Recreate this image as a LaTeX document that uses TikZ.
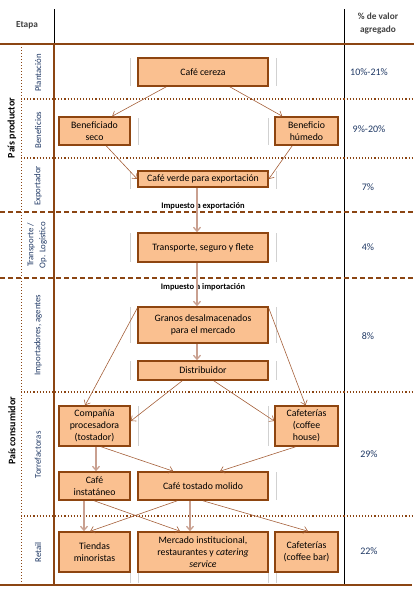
\documentclass[tikz,border=0pt]{standalone}
\usepackage{fontspec}
\setmainfont{Carlito}
\usetikzlibrary{arrows.meta}
\definecolor{BoxFill}{HTML}{FAC090}
\definecolor{BoxEdge}{HTML}{8E4510}
\definecolor{LinkBrown}{HTML}{A5603A}
\definecolor{LinkPale}{HTML}{C9A090}
\definecolor{RuleBrown}{HTML}{8B4513}
\definecolor{StageNavy}{HTML}{1F3864}

\begin{document}
\begin{tikzpicture}[x=1pt, y=-1pt,
    stepbox/.style={draw=BoxEdge, fill=BoxFill, line width=1.6pt, inner sep=1pt, align=center, font=\fontsize{9.8}{12}\selectfont},
    link/.style={-{Straight Barb[length=4pt,width=7pt]}, color=LinkBrown, line width=0.6pt},
    mainlink/.style={-{Straight Barb[length=4pt,width=7pt]}, color=LinkPale, line width=1.3pt},
    stage/.style={rotate=90, color=StageNavy, align=center, font=\fontsize{8.8}{12}\selectfont},
    country/.style={rotate=90, font=\bfseries\fontsize{10}{12}\selectfont},
    share/.style={color=StageNavy, font=\fontsize{10}{12}\selectfont},
    tax/.style={font=\bfseries\fontsize{8.5}{10}\selectfont},
    head/.style={align=center, color=black!75, font=\bfseries\fontsize{9.3}{13}\selectfont},
    guide/.style={draw=black!18, line width=1pt}
  ]
    \useasboundingbox (0,0) rectangle (414,590);

    % table frame
    \draw[black, line width=0.8pt] (54,9) -- (54,44);
    \draw[black, line width=0.8pt] (344,9) -- (344,585);
    \draw[RuleBrown, line width=1.5pt] (0,44) -- (414,44);
    \draw[RuleBrown, line width=1.6pt] (54,44) -- (54,585);
    \draw[RuleBrown, line width=1pt, dotted] (21,44) -- (21,585);
    \foreach \y in {99,158,392,516}
      \draw[RuleBrown, line width=1.1pt, dotted] (21,\y) -- (414,\y);
    \foreach \y in {212,278}
      \draw[RuleBrown, line width=1.5pt, dash pattern=on 5pt off 3pt] (0,\y) -- (414,\y);
    \draw[RuleBrown, line width=2pt] (0,585) -- (412,585);

    % header
    \node[head] (etapa) at (27,25) {Etapa};
    \node[head] (valor) at (378,24) {\% de valor\\agregado};

    % stage labels
    \node[country] (prod) at (12,128) {País productor};
    \node[country] (cons) at (12,431) {País consumidor};
    \node[stage] (plant) at (38,73) {Plantación};
    \node[stage] (benef) at (38,130) {Beneficios};
    \node[stage] (expor) at (38,186) {Exportador};
    \node[stage] (logis) at (37,245) {Transporte /\\Op. Logístico};
    \node[stage] (impor) at (38,335) {Importadores, agentes};
    \node[stage] (torre) at (38,455) {Torrefactoras};
    \node[stage] (retail) at (38,552) {Retail};

    % shares
    \node[share] (p1) at (369,72) {10\%-21\%};
    \node[share] (p2) at (369,129) {9\%-20\%};
    \node[share] (p3) at (368,187) {7\%};
    \node[share] (p4) at (368,247) {4\%};
    \node[share] (p5) at (368,336) {8\%};
    \node[share] (p6) at (369,454) {29\%};
    \node[share] (p7) at (369,551) {22\%};

    % grid guides
    \foreach \ya/\yb in {58/86,171/189,233/262,307/343,361/380}
      \draw[guide] (130,\ya) -- (130,\yb) (276,\ya) -- (276,\yb);
    \foreach \ya/\yb in {118/145,406/446}
      \draw[guide] (138,\ya) -- (138,\yb) (268,\ya) -- (268,\yb);
    \draw[guide] (276,472) -- (276,500);
    \draw[guide] (130,572) -- (130,583) (138,572) -- (138,583)
                 (268,572) -- (268,583) (276,572) -- (276,583);

    % boxes
    \node[stepbox, minimum width=130pt, minimum height=28pt] (cereza) at (203,72) {Café cereza};
    \node[stepbox, minimum width=71pt, minimum height=28pt] (seco) at (94.5,131) {Beneficiado\\seco};
    \node[stepbox, minimum width=63pt, minimum height=28pt] (humedo) at (306.5,131) {Beneficio\\húmedo};
    \node[stepbox, minimum width=130pt, minimum height=16pt] (verde) at (203,179) {Café verde para exportación};
    \node[stepbox, minimum width=130pt, minimum height=29pt] (flete) at (203,247.5) {Transporte, seguro y flete};
    \node[stepbox, minimum width=130pt, minimum height=36pt] (granos) at (203,325) {Granos desalmacenados\\para el mercado};
    \node[stepbox, minimum width=130pt, minimum height=19pt] (distrib) at (203,370.5) {Distribuidor};
    \node[stepbox, minimum width=71pt, minimum height=40pt] (tostador) at (94.5,426) {Compañía\\procesadora\\(tostador)};
    \node[stepbox, minimum width=63pt, minimum height=40pt] (house) at (306.5,426) {Cafeterías\\(coffee\\house)};
    \node[stepbox, minimum width=71pt, minimum height=28pt] (instant) at (94.5,486) {Café\\instatáneo};
    \node[stepbox, minimum width=130pt, minimum height=28pt] (molido) at (203,486) {Café tostado molido};
    \node[stepbox, minimum width=71pt, minimum height=40pt] (tiendas) at (94.5,552) {Tiendas\\minoristas};
    \node[stepbox, minimum width=130pt, minimum height=40pt] (mercado) at (203,552) {Mercado institucional,\\restaurantes y \textit{catering}\\\textit{service}};
    \node[stepbox, minimum width=63pt, minimum height=40pt] (bar) at (306.5,552) {Cafeterías\\(coffee bar)};

    % taxes
    \node[tax] (taxexp) at (203,206) {Impuesto a exportación};
    \node[tax] (taximp) at (203,287) {Impuesto a importación};

    % flows
    \draw[link] ([xshift=29pt]cereza.south west) -- ([xshift=54pt]seco.north west);
    \draw[link] ([xshift=-39pt]cereza.south east) -- ([xshift=8pt]humedo.north west);
    \draw[link] ([xshift=48pt]seco.south west) -- (verde.west);
    \draw[link] ([xshift=18pt]humedo.south west) -- (verde.east);
    \draw[mainlink] ([xshift=-6pt]verde.south) -- ([xshift=-6pt]flete.north);
    \draw[mainlink] ([xshift=-6pt]flete.south) -- ([xshift=-6pt]granos.north);
    \draw[mainlink] ([xshift=-6pt]granos.south) -- ([xshift=-6pt]distrib.north);
    \draw[link] ([yshift=-2pt]granos.north west) -- ([xshift=27pt]tostador.north west);
    \draw[link] ([yshift=-2pt]granos.north east) -- ([xshift=-1pt]house.north);
    \draw[link] ([xshift=45pt]distrib.south west) -- ([yshift=5pt]tostador.east);
    \draw[link] ([xshift=-55pt]distrib.south east) -- ([yshift=5pt]house.west);
    \draw[mainlink] ([xshift=1.5pt]tostador.south) -- ([xshift=1.5pt]instant.north);
    \draw[link] ([xshift=43pt]tostador.south west) -- ([xshift=36pt]molido.north west);
    \draw[link] ([xshift=-11pt]house.south) -- ([xshift=17pt]molido.north);
    \draw[mainlink] ([xshift=-10.5pt]instant.south) -- ([xshift=-10.5pt]tiendas.north);
    \draw[link] ([xshift=36pt]instant.south west) -- ([xshift=-23pt]mercado.north);
    \draw[link] ([xshift=40pt]molido.south west) -- ([xshift=32pt]tiendas.north west);
    \draw[mainlink] ([xshift=-13pt]molido.south) -- ([xshift=-13pt]mercado.north);
    \draw[link] (molido.south) -- ([xshift=1.5pt]bar.north);
\end{tikzpicture}
\end{document}
